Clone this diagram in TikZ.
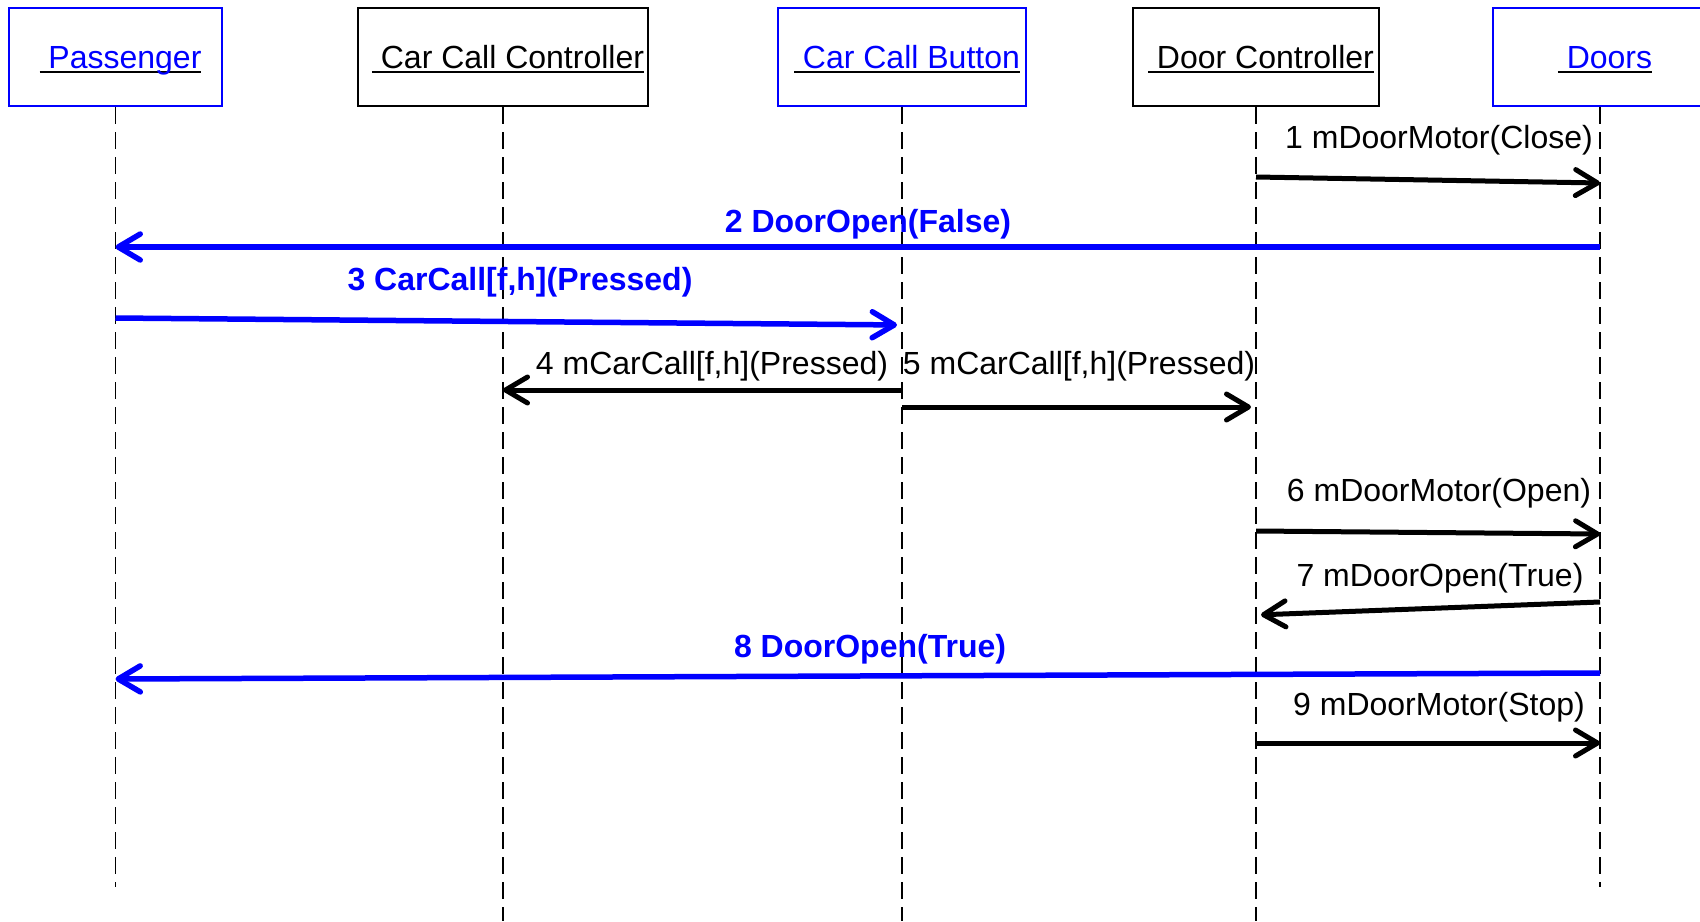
\documentclass[tikz,border=0pt]{standalone}
\usepackage{fontspec}
\setmainfont{Liberation Sans}
\usepackage{xcolor}
\usetikzlibrary{arrows.meta, positioning}
\definecolor{umlblue}{RGB}{0,0,255}
\newsavebox{\headbox}
\newcommand{\headline}[1]{\sbox{\headbox}{#1}\hspace*{10pt}\rlap{\rule[-4pt]{\wd\headbox}{2pt}}\usebox{\headbox}}

\begin{document}
\begin{tikzpicture}[
    x=1pt, y=-1pt,
    every node/.style={font=\fontsize{32}{38}\selectfont},
    object/.style={rectangle, draw, line width=2pt, minimum height=98pt, inner sep=0pt, text height=24pt, text depth=0.5pt},
    lifeline/.style={line width=1.5pt, dash pattern=on 17pt off 8pt},
    msg/.style={-{Straight Barb[length=22pt, width=26pt, round]}, line width=5pt},
    signal/.style={msg, draw=umlblue, line width=5.5pt},
    lbl/.style={inner sep=0pt},
    siglbl/.style={inner sep=0pt, text=umlblue, font=\fontsize{32}{38}\selectfont\bfseries},
]
    \useasboundingbox (0,0) rectangle (1700,921);

    % objects
    \node[object, draw=umlblue, minimum width=213pt] (pass) at (115.5,57) {\headline{\ \textcolor{umlblue}{Passenger}}};
    \node[object, minimum width=290pt] (ccc) at (503,57) {\headline{\ Car Call Controller}};
    \node[object, draw=umlblue, minimum width=248pt] (ccb) at (902,57) {\headline{\ \textcolor{umlblue}{Car Call Button}}};
    \node[object, minimum width=246pt] (dc) at (1256,57) {\headline{\ Door Controller}};
    \node[object, draw=umlblue, minimum width=214pt] (doors) at (1600,57) {\headline{\ \textcolor{umlblue}{Doors}}};

    % lifelines
    \coordinate (passEnd) at (pass |- 0,887);
    \coordinate (cccEnd) at (ccc |- 0,921);
    \coordinate (ccbEnd) at (ccb |- 0,921);
    \coordinate (dcEnd) at (dc |- 0,921);
    \coordinate (doorsEnd) at (doors |- 0,887);
    \draw[lifeline] (pass.south) -- (passEnd);
    \draw[lifeline] (ccc.south) -- (cccEnd);
    \draw[lifeline] (ccb.south) -- (ccbEnd);
    \draw[lifeline] (dc.south) -- (dcEnd);
    \draw[lifeline] (doors.south) -- (doorsEnd);

    % messages
    \node[lbl] (l1) at (1439,140) {1 mDoorMotor(Close)};
    \draw[msg] (dc |- 0,177) -- (doors |- 0,183);

    \node[siglbl] (l2) at (868,224) {2 DoorOpen(False)};
    \draw[signal] (doors |- 0,247) -- (pass |- 0,247);

    \node[siglbl] (l3) at (520,282) {3 CarCall[f,h](Pressed)};
    \draw[signal, shorten >=5pt] (pass |- 0,318) -- (ccb |- 0,325);

    \node[lbl] (l4) at (712,366) {4 mCarCall[f,h](Pressed)};
    \draw[msg] (ccb |- 0,390) -- (ccc |- 0,390);

    \node[lbl] (l5) at (1079,366) {5 mCarCall[f,h](Pressed)};
    \draw[msg, shorten >=5pt] (ccb |- 0,407) -- (dc |- 0,407);

    \node[lbl] (l6) at (1439,493) {6 mDoorMotor(Open)};
    \draw[msg] (dc |- 0,531) -- (doors |- 0,534);

    \node[lbl] (l7) at (1440,578) {7 mDoorOpen(True)};
    \draw[msg, shorten >=5pt] (doors |- 0,602) -- (dc |- 0,615);

    \node[siglbl] (l8) at (870,649) {8 DoorOpen(True)};
    \draw[signal] (doors |- 0,673) -- (pass |- 0,679);

    \node[lbl] (l9) at (1439,707) {9 mDoorMotor(Stop)};
    \draw[msg] (dc |- 0,743) -- (doors |- 0,743);
\end{tikzpicture}
\end{document}
